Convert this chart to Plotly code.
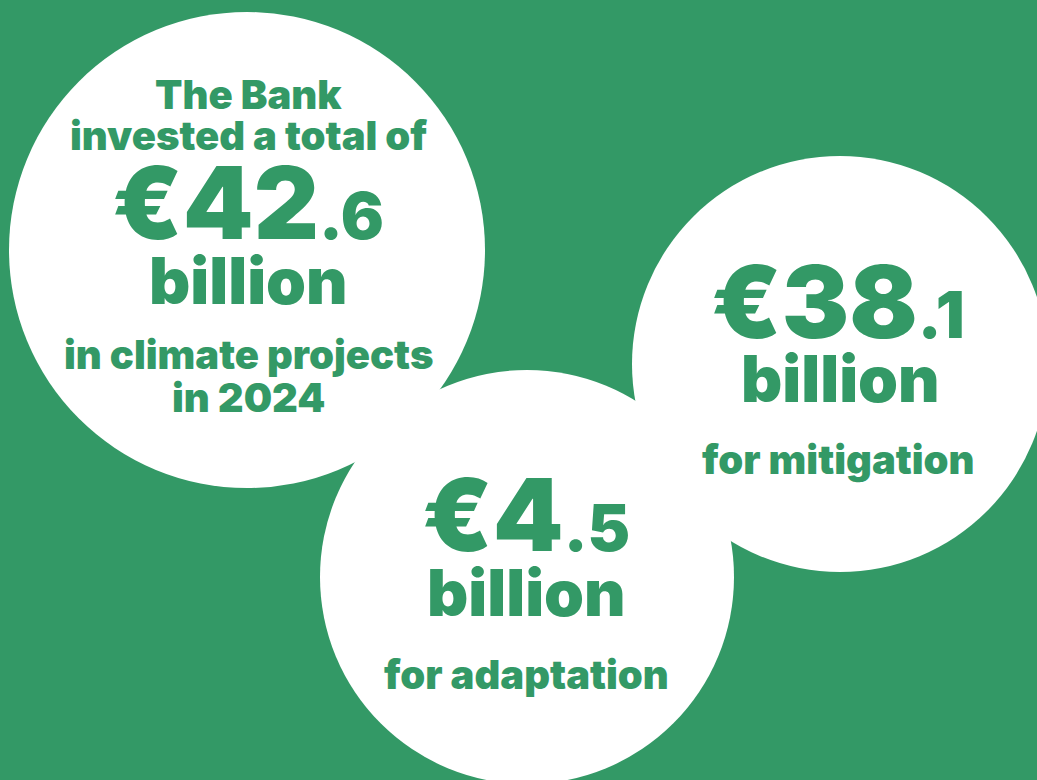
import plotly.graph_objects as go

# ---- data ----
categories = ["total", "mitigation", "adaptation"]
values = [42.6, 38.1, 4.5]
units = ["billion", "billion", "billion"]
intro_lines = ["The Bank", "invested a total of"]
caption_lines = {
    "total": ["in climate projects", "in 2024"],
    "mitigation": ["for mitigation"],
    "adaptation": ["for adaptation"],
}

# ---- layout constants ----
W, H = 1037, 780
GREEN = "#339966"
FONT = "Inter"
circles = {  # centre x, centre y, radius (pixels)
    "total": (247, 250, 238),
    "mitigation": (840, 364, 208),
    "adaptation": (527, 577, 207),
}

fig = go.Figure()
fig.add_trace(go.Scatter(x=[0], y=[0], mode="markers", marker=dict(opacity=0),
                         hoverinfo="skip", showlegend=False))

for cat in categories:
    cx, cy, r = circles[cat]
    fig.add_shape(type="circle", xref="x", yref="y", x0=cx - r, x1=cx + r, y0=cy - r, y1=cy + r,
                  fillcolor="white", line=dict(width=0), layer="below")


def money(v, small):
    whole, dec = f"{v:.1f}".split(".")
    return f"€{whole}<span style='font-size:{small}px'>.{dec}</span>"


def ann(x, y, text, size):
    fig.add_annotation(x=x, y=y, xref="x", yref="y", text=text, showarrow=False,
                       xanchor="center", yanchor="middle", align="center",
                       font=dict(family=FONT, size=size, color=GREEN, weight=900))


BIG, SMALL, UNIT, TXT = 101, 64, 64, 40

# total circle
ann(248, 94, intro_lines[0], TXT)
ann(248, 135, intro_lines[1], TXT)
ann(248, 202, money(values[0], SMALL), BIG)
ann(248, 280, units[0], UNIT)
ann(248, 354, caption_lines["total"][0], TXT)
ann(248, 397, caption_lines["total"][1], TXT)

# mitigation circle
ann(838, 301, money(values[1], SMALL), BIG)
ann(840, 378, units[1], UNIT)
ann(838, 459, caption_lines["mitigation"][0], TXT)

# adaptation circle
ann(526, 514, money(values[2], SMALL), BIG)
ann(526, 592, units[2], UNIT)
ann(526, 674, caption_lines["adaptation"][0], TXT)

fig.update_layout(
    width=W, height=H, margin=dict(l=0, r=0, t=0, b=0),
    paper_bgcolor=GREEN, plot_bgcolor=GREEN, showlegend=False,
    xaxis=dict(range=[0, W], visible=False, fixedrange=True),
    yaxis=dict(range=[H, 0], visible=False, fixedrange=True),
)
fig.write_html("out.html", config={"displayModeBar": False},
               post_script="document.body.style.margin='0';document.body.style.background='%s';" % GREEN)
